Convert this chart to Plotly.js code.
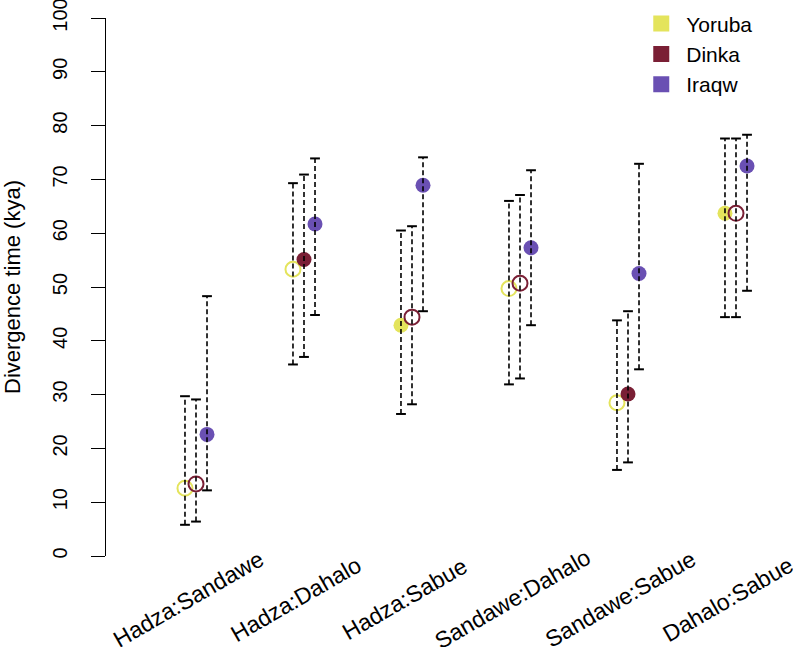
<!DOCTYPE html>
<html>
<head>
<meta charset="utf-8">
<script src="https://cdn.plot.ly/plotly-3.0.1.min.js"></script>
<style>
body { margin: 0; background: white; }
#plot { width: 793px; height: 647px; }
</style>
</head>
<body>
<div id="plot"></div>
<script>
const pairs = ["Hadza:Sandawe", "Hadza:Dahalo", "Hadza:Sabue", "Sandawe:Dahalo", "Sandawe:Sabue", "Dahalo:Sabue"]
const yTicks = [0, 10, 20, 30, 40, 50, 60, 70, 80, 90, 100]

const yorubaEst = [12.6, 53.3, 42.9, 49.7, 28.5, 63.7]
const yorubaLo = [5.8, 35.6, 26.4, 31.9, 16.0, 44.4]
const yorubaHi = [29.7, 69.3, 60.5, 66.0, 43.8, 77.6]
const yorubaFilled = [false, false, true, false, false, true]

const dinkaEst = [13.4, 55.1, 44.4, 50.7, 30.1, 63.7]
const dinkaLo = [6.4, 37.0, 28.2, 33.0, 17.4, 44.4]
const dinkaHi = [29.1, 70.9, 61.3, 67.1, 45.5, 77.6]
const dinkaFilled = [false, true, false, false, true, false]

const iraqwEst = [22.6, 61.7, 68.9, 57.3, 52.5, 72.5]
const iraqwLo = [12.2, 44.8, 45.5, 42.9, 34.7, 49.3]
const iraqwHi = [48.3, 73.9, 74.1, 71.7, 72.9, 78.3]
const iraqwFilled = [true, true, true, true, true, true]

const groups = [
    {name: "Yoruba", color: "#e4e45c", shift: -0.102, est: yorubaEst, lo: yorubaLo, hi: yorubaHi, filled: yorubaFilled},
    {name: "Dinka", color: "#7a1f35", shift: 0, est: dinkaEst, lo: dinkaLo, hi: dinkaHi, filled: dinkaFilled},
    {name: "Iraqw", color: "#6a50b3", shift: 0.102, est: iraqwEst, lo: iraqwLo, hi: iraqwHi, filled: iraqwFilled}
]

const font = "Liberation Sans, Arial, Helvetica, sans-serif"

let pointTraces = []
let barTraces = []
let capTraces = []
let legendTraces = []

groups.forEach(function(g){
    let xs = pairs.map(function(p, i){ return i + 1 + g.shift })

    pointTraces.push({
        x: xs,
        y: g.est,
        mode: "markers",
        type: "scatter",
        showlegend: false,
        hoverinfo: "skip",
        marker: {
            color: g.color,
            size: 15,
            symbol: g.filled.map(function(f){ return f ? "circle" : "circle-open" }),
            line: {color: g.color, width: g.filled.map(function(f){ return f ? 0 : 2 })}
        }
    })

    let lx = []
    let ly = []
    let cx = []
    let cy = []
    for (let i = 0; i < xs.length; i++) {
        lx.push(xs[i], xs[i], null)
        ly.push(g.lo[i], g.hi[i], null)
        cx.push(xs[i], xs[i])
        cy.push(g.lo[i], g.hi[i])
    }
    barTraces.push({
        x: lx,
        y: ly,
        mode: "lines",
        type: "scatter",
        showlegend: false,
        hoverinfo: "skip",
        line: {color: "black", width: 1.6, dash: "5px,3px"}
    })
    capTraces.push({
        x: cx,
        y: cy,
        mode: "markers",
        type: "scatter",
        showlegend: false,
        hoverinfo: "skip",
        marker: {symbol: "line-ew", size: 7, line: {color: "black", width: 2}}
    })

    legendTraces.push({
        x: [null],
        y: [null],
        mode: "markers",
        type: "scatter",
        name: g.name,
        marker: {symbol: "square", size: 16, color: g.color}
    })
})

// x labels as rotated annotations, centred under each pair like R's text(srt=30)
const labelAnnotations = pairs.map(function(p, i){
    return {
        x: i + 1 - 0.07,
        y: -0.08,
        xref: "x",
        yref: "paper",
        text: p,
        showarrow: false,
        textangle: -30,
        xanchor: "center",
        yanchor: "middle",
        font: {family: font, size: 23, color: "black"}
    }
})

const layout = {
    width: 793,
    height: 647,
    margin: {l: 106, r: 20, t: 18, b: 91, autoexpand: false},
    paper_bgcolor: "white",
    plot_bgcolor: "white",
    font: {family: font, size: 22, color: "black"},
    showlegend: true,
    legend: {
        x: 0.795, y: 1.027, xanchor: "left", yanchor: "top",
        font: {family: font, size: 21, color: "black"},
        itemwidth: 40,
        bgcolor: "rgba(0,0,0,0)"
    },
    xaxis: {
        range: [0.1667, 6.3426],
        showgrid: false,
        zeroline: false,
        showline: false,
        showticklabels: false,
        ticks: ""
    },
    yaxis: {
        range: [0, 100],
        tickvals: yTicks,
        ticktext: yTicks.map(String),
        tickangle: -90,
        ticks: "outside",
        ticklen: 14,
        tickwidth: 1,
        tickcolor: "black",
        ticklabelstandoff: 16,
        ticklabeloverflow: "allow",
        showline: true,
        linecolor: "black",
        linewidth: 1,
        showgrid: false,
        zeroline: false,
        tickfont: {family: font, size: 20, color: "black"},
        title: {text: "Divergence time (kya)", font: {family: font, size: 22, color: "black"}, standoff: 30}
    },
    annotations: labelAnnotations
}

Plotly.newPlot("plot", pointTraces.concat(barTraces, capTraces, legendTraces), layout, {displayModeBar: false, staticPlot: true})
</script>
</body>
</html>
